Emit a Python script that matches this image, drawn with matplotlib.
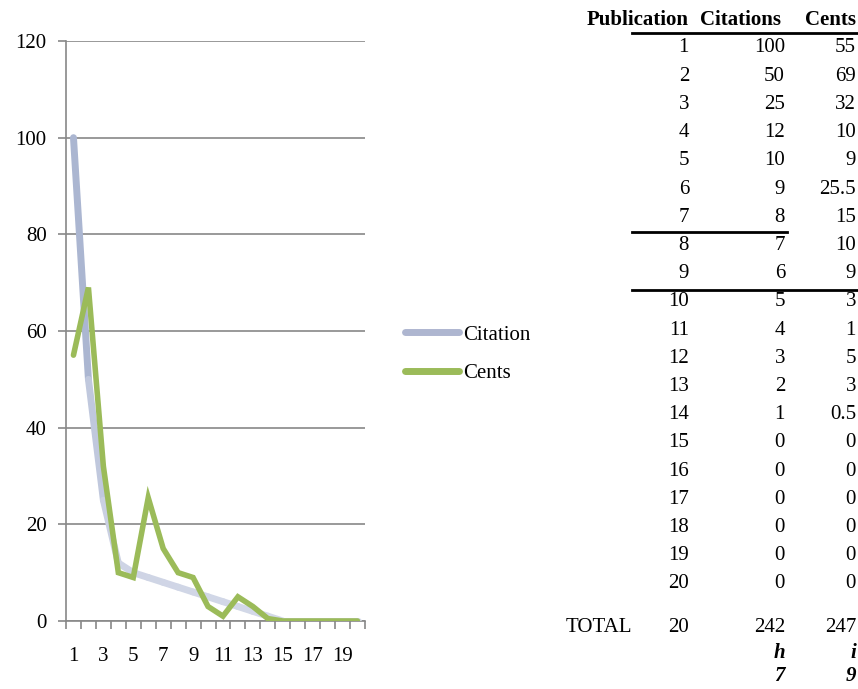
import matplotlib
matplotlib.use('Agg')
import matplotlib.pyplot as plt
import numpy as np
from matplotlib.collections import LineCollection
from matplotlib.lines import Line2D

plt.rcParams['font.family'] = ['Liberation Serif', 'DejaVu Serif']

# Dữ liệu
publication = list(range(1, 21))
citations = [100, 50, 25, 12, 10, 9, 8, 7, 6, 5, 4, 3, 2, 1, 0, 0, 0, 0, 0, 0]
cents = [55, 69, 32, 10, 9, 25.5, 15, 10, 9, 3, 1, 5, 3, 0.5, 0, 0, 0, 0, 0, 0]
cents_labels = ['55', '69', '32', '10', '9', '25.5', '15', '10', '9', '3',
                '1', '5', '3', '0.5', '0', '0', '0', '0', '0', '0']
total_pub = 20
total_cit = 242
total_cents = 247
h_index = 7
i_index = 9

fs = 15

fig = plt.figure(figsize=(8.58, 6.89), dpi=100)
ax = fig.add_axes([66 / 858, 1 - 621 / 689, 299 / 858, 580 / 689])

# Đường Citation có màu chuyển dần
x = np.array(publication, dtype=float)
y = np.array(citations, dtype=float)
pts = np.column_stack([x, y]).reshape(-1, 1, 2)
segs = np.concatenate([pts[:-1], pts[1:]], axis=1)
c_top = np.array([0.62, 0.67, 0.79])
c_bot = np.array([0.83, 0.85, 0.91])
mid = (y[:-1] + y[1:]) / 2 / 100
cols = [c_bot + (c_top - c_bot) * m for m in mid]
lc = LineCollection(segs, colors=cols, linewidths=5, capstyle='round',
                    joinstyle='round', zorder=3)
ax.add_collection(lc)

ax.plot(publication, cents, color='#9BBB59', lw=4, solid_capstyle='round',
        solid_joinstyle='miter', zorder=4)

ax.set_xlim(0.5, 20.5)
ax.set_ylim(0, 120)
ax.set_yticks(range(0, 121, 20))
ax.set_xticks(range(1, 21, 2))
ax.set_xticks(np.arange(0.5, 21, 1), minor=True)
ax.tick_params(axis='x', which='major', length=0, labelsize=fs, pad=19)
ax.tick_params(axis='x', which='minor', length=6, color='#888888', width=1.2)
ax.tick_params(axis='y', length=6, color='#888888', width=1.2, labelsize=fs, pad=8)
ax.grid(axis='y', color='#888888', lw=1.2, zorder=1)
for s in ['top', 'right']:
    ax.spines[s].set_visible(False)
for s in ['left', 'bottom']:
    ax.spines[s].set_color('#888888')
    ax.spines[s].set_linewidth(1.2)

# Chú thích
handles = [Line2D([], [], color='#AEB6D0', lw=5, solid_capstyle='round'),
           Line2D([], [], color='#9BBB59', lw=5, solid_capstyle='round')]
fig.legend(handles, ['Citation', 'Cents'], loc='center left',
           bbox_to_anchor=(405 / 858, 1 - 354 / 689), frameon=False,
           fontsize=fs, handlelength=2.6, handletextpad=0.2, labelspacing=0.9,
           borderpad=0, borderaxespad=0)

# Bảng
def fy(py):
    return 1 - py / 689

fig.text(689 / 858, fy(20), 'Publication', ha='right', va='center', fontsize=fs, fontweight='bold')
fig.text(781 / 858, fy(20), 'Citations', ha='right', va='center', fontsize=fs, fontweight='bold')
fig.text(856 / 858, fy(20), 'Cents', ha='right', va='center', fontsize=fs, fontweight='bold')

row_h = (584 - 48) / 19
for i in range(len(publication)):
    py = 48 + i * row_h
    fig.text(689 / 858, fy(py), str(publication[i]), ha='right', va='center', fontsize=fs)
    fig.text(785 / 858, fy(py), str(citations[i]), ha='right', va='center', fontsize=fs)
    fig.text(856 / 858, fy(py), cents_labels[i], ha='right', va='center', fontsize=fs)

fig.add_artist(Line2D([632 / 858, 858 / 858], [fy(33), fy(33)], color='black', lw=2))
fig.add_artist(Line2D([632 / 858, 787 / 858], [fy(232), fy(232)], color='black', lw=2))
fig.add_artist(Line2D([632 / 858, 858 / 858], [fy(290), fy(290)], color='black', lw=2))

fig.text(632 / 858, fy(628), 'TOTAL', ha='right', va='center', fontsize=fs)
fig.text(689 / 858, fy(628), str(total_pub), ha='right', va='center', fontsize=fs)
fig.text(785 / 858, fy(628), str(total_cit), ha='right', va='center', fontsize=fs)
fig.text(856 / 858, fy(628), str(total_cents), ha='right', va='center', fontsize=fs)
fig.text(785 / 858, fy(653), 'h', ha='right', va='center', fontsize=fs, fontweight='bold', style='italic')
fig.text(856 / 858, fy(653), 'i', ha='right', va='center', fontsize=fs, fontweight='bold', style='italic')
fig.text(785 / 858, fy(676), str(h_index), ha='right', va='center', fontsize=fs, fontweight='bold', style='italic')
fig.text(856 / 858, fy(676), str(i_index), ha='right', va='center', fontsize=fs, fontweight='bold', style='italic')

fig.savefig('out.png', dpi=100)
